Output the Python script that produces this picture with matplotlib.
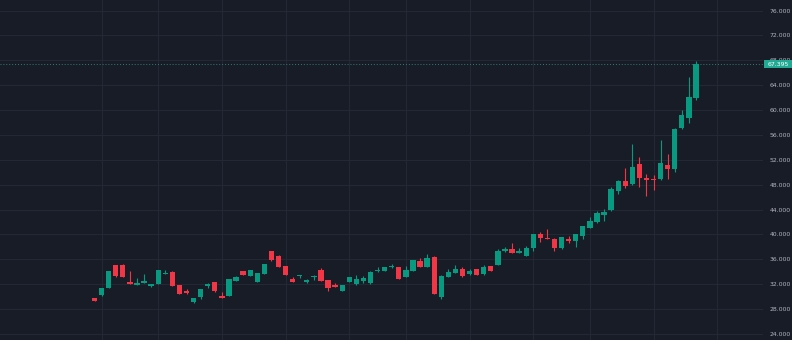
import numpy as np
import matplotlib
matplotlib.use("Agg")
import matplotlib.pyplot as plt
import matplotlib.transforms as mtransforms
from matplotlib.patches import Rectangle

# candle values (oldest -> newest)
opens = [29.73, 30.21, 31.44, 35.03, 35.07, 32.35, 31.92, 32.24, 31.66, 32.07,
         33.69, 34.00, 31.82, 30.90, 29.10, 30.00, 31.70, 32.35, 30.15, 30.10,
         32.50, 34.12, 33.36, 32.40, 33.64, 37.28, 36.58, 34.92, 32.83, 33.30,
         32.40, 33.10, 34.28, 32.62, 31.87, 30.95, 32.35, 31.98, 32.50, 32.14,
         34.07, 34.16, 34.70, 34.70, 33.20, 34.16, 35.73, 34.76, 36.42, 30.00,
         33.20, 33.85, 34.44, 33.59, 34.39, 33.59, 34.92, 35.13, 37.33, 37.65,
         37.00, 36.58, 37.87, 40.12, 39.43, 39.32, 37.76, 39.26, 38.90, 39.80,
         41.08, 41.95, 43.20, 43.88, 46.98, 48.64, 48.05, 51.37, 49.02, 48.90,
         48.86, 51.11, 50.47, 57.06, 58.77, 61.90]
highs = [29.80, 31.45, 34.15, 35.10, 35.25, 34.10, 32.95, 33.65, 32.10, 34.30,
         34.30, 34.05, 31.90, 31.30, 29.85, 31.30, 32.15, 32.40, 30.80, 32.90,
         33.25, 34.20, 34.32, 33.80, 35.30, 37.35, 36.65, 35.00, 33.20, 33.55,
         32.80, 33.50, 34.65, 32.70, 32.14, 31.85, 33.15, 33.50, 33.30, 34.05,
         34.70, 34.75, 35.24, 34.75, 34.86, 35.90, 36.26, 36.80, 36.50, 33.40,
         34.44, 35.03, 34.76, 34.49, 34.45, 35.08, 35.00, 37.70, 38.05, 38.57,
         37.87, 38.14, 40.15, 40.44, 40.92, 39.40, 39.65, 39.75, 40.10, 41.35,
         42.85, 43.70, 44.04, 47.67, 48.70, 50.63, 54.49, 52.40, 49.71, 49.55,
         55.18, 52.98, 57.10, 60.00, 65.26, 67.85]
lows = [29.30, 30.15, 31.40, 33.20, 33.15, 32.05, 31.88, 32.20, 31.60, 32.00,
        33.65, 31.70, 30.35, 30.50, 29.00, 29.60, 31.35, 30.80, 29.75, 30.05,
        32.45, 33.48, 33.30, 32.35, 33.60, 35.80, 34.70, 33.45, 32.35, 32.95,
        32.20, 32.70, 32.50, 30.90, 31.55, 30.90, 32.30, 31.95, 32.24, 32.10,
        34.03, 34.10, 34.65, 32.85, 33.15, 34.10, 34.70, 34.70, 30.38, 29.60,
        33.15, 33.80, 33.20, 33.55, 33.45, 33.55, 34.08, 35.10, 37.12, 36.95,
        36.95, 36.55, 37.38, 38.83, 39.22, 37.33, 37.70, 38.67, 38.03, 39.32,
        41.00, 41.80, 42.16, 43.80, 46.45, 47.42, 48.00, 47.58, 46.23, 47.14,
        48.80, 48.86, 50.08, 57.00, 57.86, 61.60]
closes = [29.34, 31.39, 34.12, 33.27, 33.20, 32.10, 32.24, 32.51, 32.03, 34.28,
          33.85, 31.75, 30.37, 30.53, 29.80, 31.25, 32.10, 30.84, 29.80, 32.83,
          33.20, 33.53, 34.28, 33.75, 35.24, 35.84, 34.76, 33.48, 32.40, 33.48,
          32.73, 33.20, 32.56, 31.44, 31.60, 31.82, 33.10, 32.88, 32.95, 34.00,
          34.28, 34.70, 34.86, 32.88, 34.28, 35.84, 34.76, 36.26, 30.42, 33.36,
          33.96, 34.49, 33.26, 34.12, 33.48, 34.76, 34.12, 37.33, 37.60, 37.00,
          37.33, 37.87, 40.12, 39.37, 39.26, 37.76, 39.59, 38.90, 40.04, 41.30,
          42.10, 43.40, 43.55, 47.30, 48.64, 47.83, 50.80, 49.12, 48.75, 48.80,
          51.43, 50.57, 57.03, 59.15, 62.10, 67.395]

price_ticks = list(range(24, 80, 4))
last_price = 67.395
# bars where the vertical (period) grid lines fall
period_idx = [1, 9, 18, 27, 36, 44, 53, 62, 70, 79, 88]

BG = "#181c27"
GRID = "#242834"
UP = "#089981"
DOWN = "#f23645"
TXT = "#b2b5be"

fig = plt.figure(figsize=(7.92, 3.40), dpi=100, facecolor=BG)
ax = fig.add_axes([0, 0, 763 / 792, 1])
ax.set_facecolor(BG)

x = np.arange(len(closes))
o = np.array(opens)
c = np.array(closes)
colors = [UP if cc >= oo else DOWN for oo, cc in zip(o, c)]

# wicks then bodies
ax.vlines(x, lows, highs, colors=colors, linewidth=0.8, zorder=2)
body = np.maximum(np.abs(c - o), 0.15)
ax.bar(x, body, bottom=np.minimum(o, c), width=0.75, color=colors,
       linewidth=0, zorder=3)

# last price dotted line
ax.axhline(last_price, color="#2f7d74", linestyle=(0, (1, 2)), linewidth=0.7, zorder=1)

ax.set_xlim(-13.36, 94.47)
ax.set_ylim(23.03, 77.69)
ax.set_xticks(period_idx)
ax.set_yticks(price_ticks)
ax.set_yticklabels([f"{v:.3f}" for v in price_ticks])
ax.yaxis.tick_right()
ax.tick_params(axis="y", length=0, pad=4.5, labelsize=4.4, labelcolor=TXT)
ax.tick_params(axis="x", length=0, labelbottom=False)
ax.grid(True, color=GRID, linewidth=0.8)
ax.set_axisbelow(True)
for s in ax.spines.values():
    s.set_visible(False)

# green price tag on the scale
trans = mtransforms.blended_transform_factory(fig.transFigure, ax.transData)
tag_h = 8 / 6.22
fig.add_artist(Rectangle((764 / 792, last_price - tag_h / 2), 28 / 792, tag_h,
                         transform=trans, facecolor="#22ab94", edgecolor="none", zorder=5))
fig.text(778 / 792, last_price, f"{last_price:.3f}", transform=trans, ha="center",
         va="center", fontsize=4.4, color="white", zorder=6)

fig.savefig("out.png", dpi=100, facecolor=BG)
